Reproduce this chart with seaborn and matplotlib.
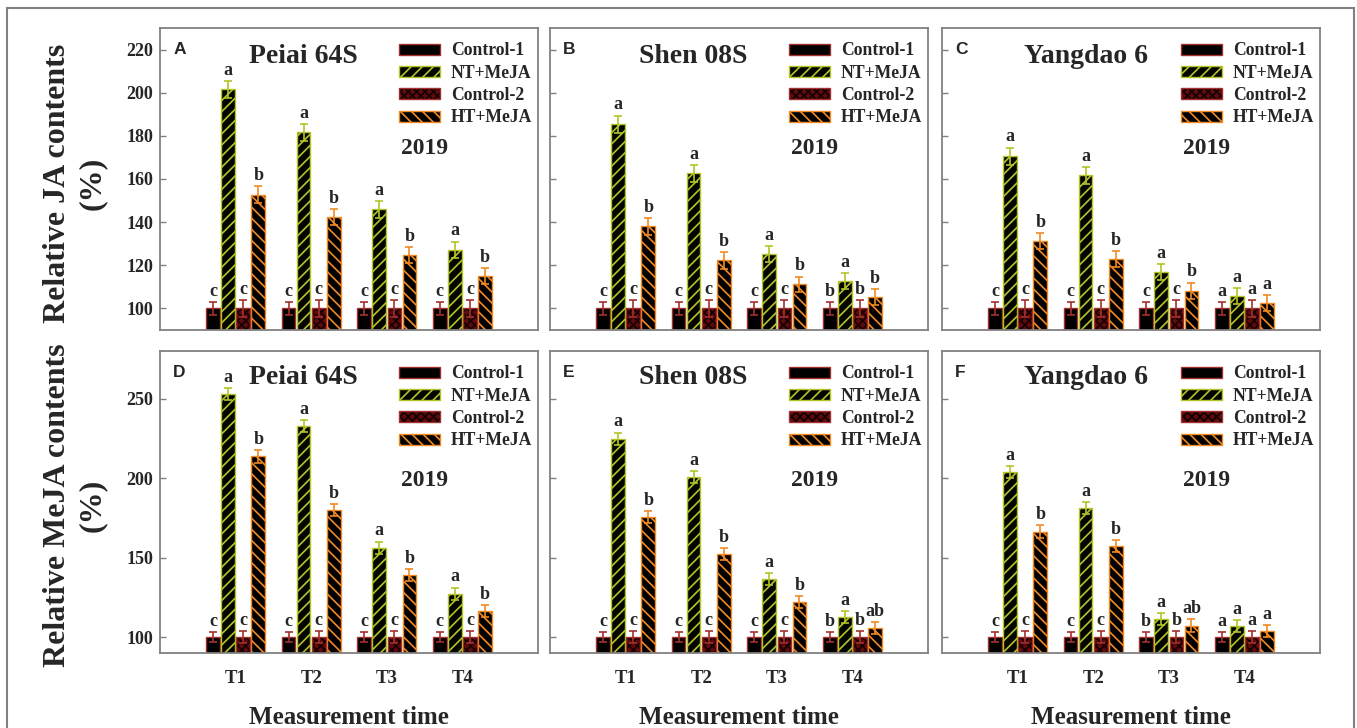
import numpy as np
import pandas as pd
import matplotlib
matplotlib.use('Agg')
import matplotlib.pyplot as plt
import seaborn as sns
from matplotlib.patches import Patch, Rectangle

# ---------------- data ----------------
times = ['T1', 'T2', 'T3', 'T4']
treatments = ['Control-1', 'NT+MeJA', 'Control-2', 'HT+MeJA']
cultivars = ['Peiai 64S', 'Shen 08S', 'Yangdao 6']
panel_letters = ['A', 'B', 'C', 'D', 'E', 'F']
year_label = '2019'
ylabels = ['Relative JA contents\n(%)', 'Relative MeJA contents\n(%)']
xlabel = 'Measurement time'

control1 = [100, 100, 100, 100]
control2 = [100, 100, 100, 100]
control1_err = [3.0, 3.0, 3.0, 3.0]
control2_err = [3.8, 3.8, 3.8, 3.8]

# Relative JA contents
ja_nt_peiai = [201.5, 181.6, 145.9, 127.3]
ja_ht_peiai = [152.8, 142.4, 124.7, 115.0]
ja_nt_shen = [185.4, 162.6, 125.1, 112.5]
ja_ht_shen = [138.0, 122.3, 111.1, 105.2]
ja_nt_yang = [170.6, 161.7, 116.8, 105.7]
ja_ht_yang = [131.2, 122.9, 108.3, 102.5]
ja_nt_err = [4.0, 4.0, 3.8, 3.7]
ja_ht_err = [3.8, 3.8, 3.7, 3.7]

# Relative MeJA contents
meja_nt_peiai = [253.1, 232.6, 156.3, 127.4]
meja_ht_peiai = [213.8, 180.1, 139.1, 116.5]
meja_nt_shen = [224.9, 200.8, 136.6, 112.6]
meja_ht_shen = [175.5, 152.1, 122.0, 105.6]
meja_nt_yang = [204.0, 181.0, 111.3, 106.7]
meja_ht_yang = [166.3, 157.3, 107.3, 103.8]
meja_nt_err = [3.8, 3.8, 3.8, 3.8]
meja_ht_err = [4.0, 3.8, 3.8, 3.8]

# significance letters (Control-1, NT+MeJA, Control-2, HT+MeJA) per time
letters_A = ['c a c b', 'c a c b', 'c a c b', 'c a c b']
letters_B = ['c a c b', 'c a c b', 'c a c b', 'b a b b']
letters_C = ['c a c b', 'c a c b', 'c a c b', 'a a a a']
letters_D = ['c a c b', 'c a c b', 'c a c b', 'c a c b']
letters_E = ['c a c b', 'c a c b', 'c a c b', 'b a b ab']
letters_F = ['c a c b', 'c a c b', 'b a b ab', 'a a a a']

ja_ticks = [100, 120, 140, 160, 180, 200, 220]
meja_ticks = [100, 150, 200, 250]

# ---------------- style ----------------
sns.set_style('ticks')
plt.rcParams['font.family'] = ['Liberation Serif', 'DejaVu Serif']
plt.rcParams['font.weight'] = 'bold'
plt.rcParams['hatch.linewidth'] = 1.2

RED_EDGE = '#a3302f'
YG = '#b4c428'
ORANGE = '#f28a24'
styles = {
    'Control-1': dict(face='#000000', edge=RED_EDGE, hatch=None, err=RED_EDGE),
    'NT+MeJA': dict(face='#050500', edge=YG, hatch='///', err=YG),
    'Control-2': dict(face='#5e0b0e', edge=RED_EDGE, hatch='xxxx', hcol='#140000', err=RED_EDGE),
    'HT+MeJA': dict(face='#000000', edge=ORANGE, hatch='\\\\\\', err=ORANGE),
}
SPINE = '#808080'

W, H = 1357, 728
fig = plt.figure(figsize=(W / 100, H / 100), dpi=100)

def ax_rect(left, top, width=378, height=302):
    return [left / W, 1 - (top + height) / H, width / W, height / H]

lefts = [160, 550, 942]
tops = [28, 351]

panels = [
    (ja_nt_peiai, ja_ht_peiai, ja_nt_err, ja_ht_err, letters_A),
    (ja_nt_shen, ja_ht_shen, ja_nt_err, ja_ht_err, letters_B),
    (ja_nt_yang, ja_ht_yang, ja_nt_err, ja_ht_err, letters_C),
    (meja_nt_peiai, meja_ht_peiai, meja_nt_err, meja_ht_err, letters_D),
    (meja_nt_shen, meja_ht_shen, meja_nt_err, meja_ht_err, letters_E),
    (meja_nt_yang, meja_ht_yang, meja_nt_err, meja_ht_err, letters_F),
]

def legend_handles():
    hs = []
    for tr in treatments:
        st = styles[tr]
        if tr == 'Control-2':
            h = (Patch(facecolor=st['face'], edgecolor=st['hcol'], hatch=st['hatch'], linewidth=0),
                 Patch(fill=False, edgecolor=st['edge'], linewidth=1.0))
        else:
            h = Patch(facecolor=st['face'], edgecolor=st['edge'], hatch=st['hatch'], linewidth=1.0)
        hs.append(h)
    return hs

for idx, (nt, ht, nt_err, ht_err, letters) in enumerate(panels):
    row, col = divmod(idx, 3)
    ax = fig.add_axes(ax_rect(lefts[col], tops[row]))
    values = {'Control-1': control1, 'NT+MeJA': nt, 'Control-2': control2, 'HT+MeJA': ht}
    errs = {'Control-1': control1_err, 'NT+MeJA': nt_err, 'Control-2': control2_err, 'HT+MeJA': ht_err}
    df = pd.DataFrame({
        'time': times * 4,
        'treatment': np.repeat(treatments, len(times)),
        'value': control1 + nt + control2 + ht,
    })
    sns.barplot(data=df, x='time', y='value', hue='treatment', order=times,
                hue_order=treatments, ax=ax, gap=0.1, errorbar=None,
                legend=False, saturation=1)
    split_letters = [s.split() for s in letters]
    for j, (cont, tr) in enumerate(zip(ax.containers, treatments)):
        st = styles[tr]
        xs = []
        for p in cont.patches:
            xs.append(p.get_x() + p.get_width() / 2)
            p.set_facecolor(st['face'])
            if tr == 'Control-2':
                p.set_edgecolor(st['hcol'])
                p.set_hatch(st['hatch'])
                p.set_linewidth(0)
                ax.add_patch(Rectangle(p.get_xy(), p.get_width(), p.get_height(),
                                       fill=False, edgecolor=st['edge'], linewidth=1.0, zorder=p.get_zorder()))
            else:
                p.set_edgecolor(st['edge'])
                p.set_linewidth(1.0)
                if st['hatch']:
                    p.set_hatch(st['hatch'])
        vals = values[tr]
        e = errs[tr]
        ax.errorbar(xs, vals, yerr=e, fmt='none', ecolor=st['err'], elinewidth=1.2,
                    capsize=2.7, capthick=1.2, zorder=4)
        for k, x in enumerate(xs):
            ax.annotate(split_letters[k][j], (x, vals[k] + e[k]), xytext=(0, 1.5),
                        textcoords='offset points', ha='center', va='bottom',
                        fontsize=13, fontweight='bold')

    ax.set_xlim(-1, 4)
    if row == 0:
        ax.set_ylim(90, 230)
        ax.set_yticks(ja_ticks)
    else:
        ax.set_ylim(90, 280)
        ax.set_yticks(meja_ticks)
    ax.set_xlabel('')
    ax.set_ylabel('')
    ax.tick_params(axis='y', direction='in', length=4, width=1, color=SPINE,
                   labelsize=13, pad=5)
    ax.tick_params(axis='x', length=0, labelsize=13.5, pad=12)
    if row == 0:
        ax.set_xticklabels([])
    if col != 0:
        ax.set_yticklabels([])
    for s in ax.spines.values():
        s.set_visible(True)
        s.set_color(SPINE)
        s.set_linewidth(1.3)

    ax.text(0.38, 0.905 if row == 0 else 0.912, cultivars[col], transform=ax.transAxes,
            ha='center', va='center', fontsize=20, fontweight='bold')
    ax.text(0.70, 0.60 if row == 0 else 0.57, year_label, transform=ax.transAxes,
            ha='center', va='center', fontsize=17, fontweight='bold')
    ax.text(0.035, 0.955, panel_letters[idx], transform=ax.transAxes, ha='left', va='top',
            fontsize=12.5, fontweight='bold', family=['Liberation Sans', 'DejaVu Sans'])
    ax.legend(legend_handles(), treatments, loc='upper right', bbox_to_anchor=(1.018, 0.993),
              frameon=False, handlelength=2.35, handleheight=0.6,
              handletextpad=0.6, labelspacing=0.3, borderaxespad=0.3,
              prop={'weight': 'bold', 'size': 12.7})

    if row == 1:
        pos = ax.get_position()
        fig.text(pos.x0 + pos.width / 2, 1 - 718 / H, xlabel, ha='center', va='center',
                 fontsize=18, fontweight='bold')

# y labels
fig.text(75 / W, 1 - 183 / H, ylabels[0], rotation=90, ha='center', va='center',
         fontsize=23, fontweight='bold', multialignment='center', linespacing=1.25)
fig.text(75 / W, 1 - 505 / H, ylabels[1], rotation=90, ha='center', va='center',
         fontsize=23, fontweight='bold', multialignment='center', linespacing=1.25)

# outer frame
fig.add_artist(Rectangle((7 / W, -0.05), (1354 - 7) / W, (1 - 8 / H) + 0.05,
                         transform=fig.transFigure, fill=False, edgecolor=SPINE, linewidth=1.5))

fig.savefig('out.png', dpi=100)
